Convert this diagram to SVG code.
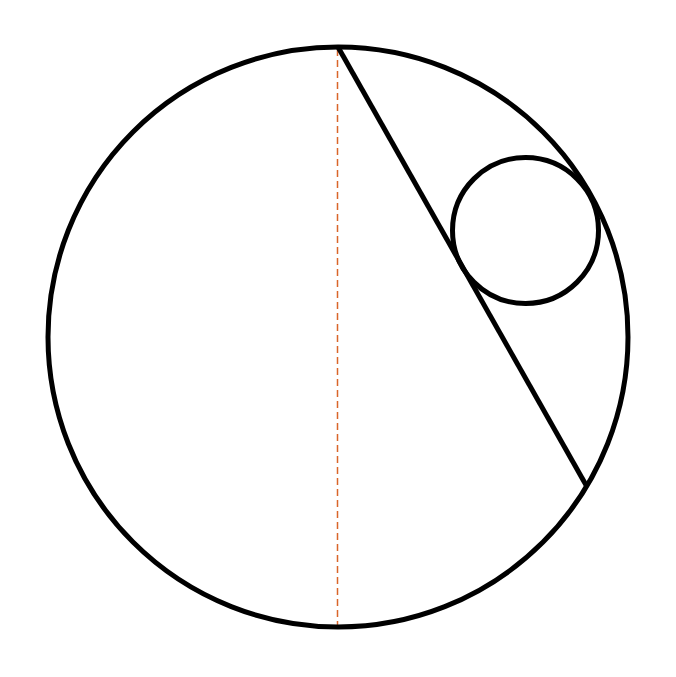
<svg xmlns="http://www.w3.org/2000/svg" width="676" height="677" viewBox="0 0 676 677">
<style>
.shape{fill:none;stroke:#000;stroke-width:5}
.dash{fill:none;stroke:#d9652a;stroke-width:1.5;stroke-dasharray:7,4}
</style>
<rect width="676" height="677" fill="#fff"/>
<g id="connectors">
<line class="dash" x1="337.5" y1="49" x2="337.5" y2="627"/>
<line class="shape" x1="338" y1="47" x2="586" y2="485"/>
</g>
<g id="big-circle"><circle class="shape" cx="338" cy="337" r="290"/></g>
<g id="small-circle"><circle class="shape" cx="525.5" cy="230.5" r="73"/></g>
</svg>
